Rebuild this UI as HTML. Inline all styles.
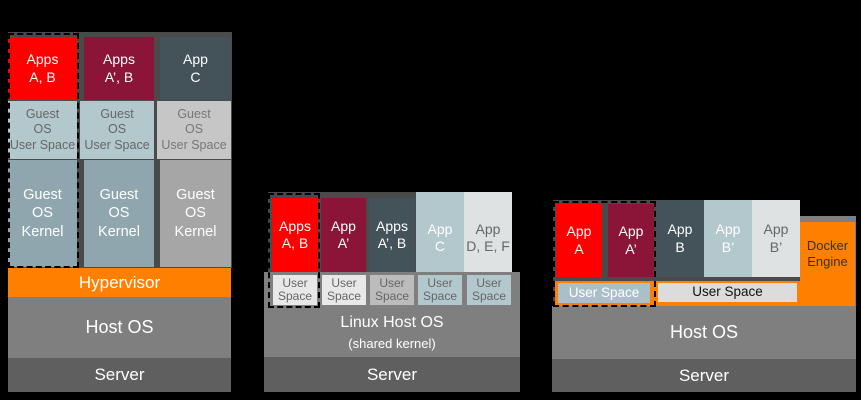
<!DOCTYPE html>
<html><head><style>
body{margin:0;background:#000;width:861px;height:400px;position:relative;overflow:hidden;font-family:"Liberation Sans",sans-serif;}
div.b{position:absolute;box-sizing:border-box;display:flex;align-items:center;justify-content:center;text-align:center;color:#fff;line-height:1.25;}
.d{position:absolute;box-sizing:border-box;border:2px dashed #000;}
</style></head><body>
<!-- Panel 1 -->
<div class="b" style="left:8px;top:32px;width:224px;height:236px;background:#4a4a4a"></div>
<div class="b" style="left:8px;top:37px;width:69px;height:63px;background:#ff0000;font-size:14px">Apps<br>A, B</div>
<div class="b" style="left:84px;top:37px;width:70px;height:63px;background:#8b1538;font-size:14px">Apps<br>A’, B</div>
<div class="b" style="left:160px;top:37px;width:71px;height:63px;background:#44525a;font-size:14px">App<br>C</div>
<div class="b" style="left:8px;top:101px;width:69px;height:58px;background:#b3c8cd;color:#666;font-size:12.5px">Guest<br>OS<br>User Space</div>
<div class="b" style="left:80px;top:101px;width:74px;height:58px;background:#b3c8cd;color:#666;font-size:12.5px">Guest<br>OS<br>User Space</div>
<div class="b" style="left:157px;top:101px;width:74px;height:58px;background:#c6c6c6;color:#777;font-size:12.5px">Guest<br>OS<br>User Space</div>
<div class="b" style="left:8px;top:160px;width:69px;height:107px;background:#8fa6af;font-size:14.5px">Guest<br>OS<br>Kernel</div>
<div class="b" style="left:84px;top:160px;width:70px;height:107px;background:#8fa6af;font-size:14.5px">Guest<br>OS<br>Kernel</div>
<div class="b" style="left:160px;top:160px;width:71px;height:107px;background:#a6a6a6;font-size:14.5px">Guest<br>OS<br>Kernel</div>
<div class="b" style="left:8px;top:268px;width:223px;height:29px;background:#ff7f00;font-size:17px">Hypervisor</div>
<div class="b" style="left:8px;top:297px;width:223px;height:61px;background:#7f7f7f;font-size:18px">Host OS</div>
<div class="b" style="left:8px;top:358px;width:223px;height:34px;background:#5f5f5f;font-size:17px">Server</div>
<div class="d" style="left:8px;top:33px;width:71px;height:235px"></div>
<!-- Panel 2 -->
<div class="b" style="left:268px;top:192px;width:244px;height:82px;background:#4a4a4a"></div>
<div class="b" style="left:272px;top:198px;width:46px;height:74px;background:#ff0000;font-size:14px">Apps<br>A, B</div>
<div class="b" style="left:321px;top:198px;width:45px;height:74px;background:#8b1538;font-size:14px">App<br>A’</div>
<div class="b" style="left:369px;top:198px;width:46px;height:74px;background:#44525a;font-size:14px">Apps<br>A’, B</div>
<div class="b" style="left:416px;top:192px;width:48px;height:80px;background:#b3c8cd;font-size:14px;padding-top:12px">App<br>C</div>
<div class="b" style="left:464px;top:192px;width:48px;height:80px;background:#dfe2e2;color:#666;font-size:14px;padding-top:12px">App<br>D, E, F</div>
<div class="b" style="left:264px;top:272px;width:256px;height:86px;background:#7f7f7f"></div>
<div class="b" style="left:264px;top:308px;width:256px;height:50px;background:#7f7f7f;font-size:16px;flex-direction:column">Linux Host OS<span style="font-size:13px;margin-top:3px">(shared kernel)</span></div>
<div class="b" style="left:273px;top:275px;width:44px;height:30px;background:#e8e8e8;color:#666;font-size:12px;line-height:1.05">User<br>Space</div>
<div class="b" style="left:322px;top:275px;width:44px;height:30px;background:#e8e8e8;color:#666;font-size:12px;line-height:1.05">User<br>Space</div>
<div class="b" style="left:370px;top:275px;width:44px;height:30px;background:#bcbcbc;color:#666;font-size:12px;line-height:1.05">User<br>Space</div>
<div class="b" style="left:418px;top:275px;width:44px;height:30px;background:#b3c8cd;color:#666;font-size:12px;line-height:1.05">User<br>Space</div>
<div class="b" style="left:467px;top:275px;width:44px;height:30px;background:#b3c8cd;color:#666;font-size:12px;line-height:1.05">User<br>Space</div>
<div class="b" style="left:264px;top:357px;width:256px;height:35px;background:#5f5f5f;font-size:17px">Server</div>
<div class="d" style="left:268px;top:193px;width:52px;height:115px"></div>
<!-- Panel 3 -->
<div class="b" style="left:553px;top:200px;width:247px;height:110px;background:#4a4a4a"></div>
<div class="b" style="left:800px;top:216px;width:56px;height:94px;background:#7f7f7f"></div>
<div class="b" style="left:556px;top:204px;width:46px;height:73px;background:#ff0000;font-size:14px">App<br>A</div>
<div class="b" style="left:608px;top:204px;width:46px;height:73px;background:#8b1538;font-size:14px">App<br>A’</div>
<div class="b" style="left:656px;top:200px;width:48px;height:77px;background:#44525a;font-size:14px">App<br>B</div>
<div class="b" style="left:704px;top:200px;width:48px;height:77px;background:#b3c8cd;font-size:14px">App<br>B’</div>
<div class="b" style="left:752px;top:200px;width:48px;height:77px;background:#dfe2e2;color:#666;font-size:14px">App<br>B’</div>
<div class="b" style="left:800px;top:222px;width:55px;height:84px;background:#ff7f00;color:#333;font-size:13px;padding-bottom:20px">Docker<br>Engine</div>
<div class="b" style="left:555px;top:281px;width:246px;height:25px;background:#ff7f00"></div>
<div class="b" style="left:558px;top:283px;width:92px;height:20px;background:#a9c0c8;font-size:13.5px">User Space</div>
<div class="b" style="left:658px;top:283px;width:139px;height:19px;background:#dcdcdc;color:#111;font-size:13.5px">User Space</div>
<div class="b" style="left:552px;top:306px;width:304px;height:53px;background:#7f7f7f;font-size:18px">Host OS</div>
<div class="b" style="left:552px;top:359px;width:304px;height:33px;background:#5f5f5f;font-size:17px">Server</div>
<div class="d" style="left:553px;top:201px;width:103px;height:106px"></div>
</body></html>
